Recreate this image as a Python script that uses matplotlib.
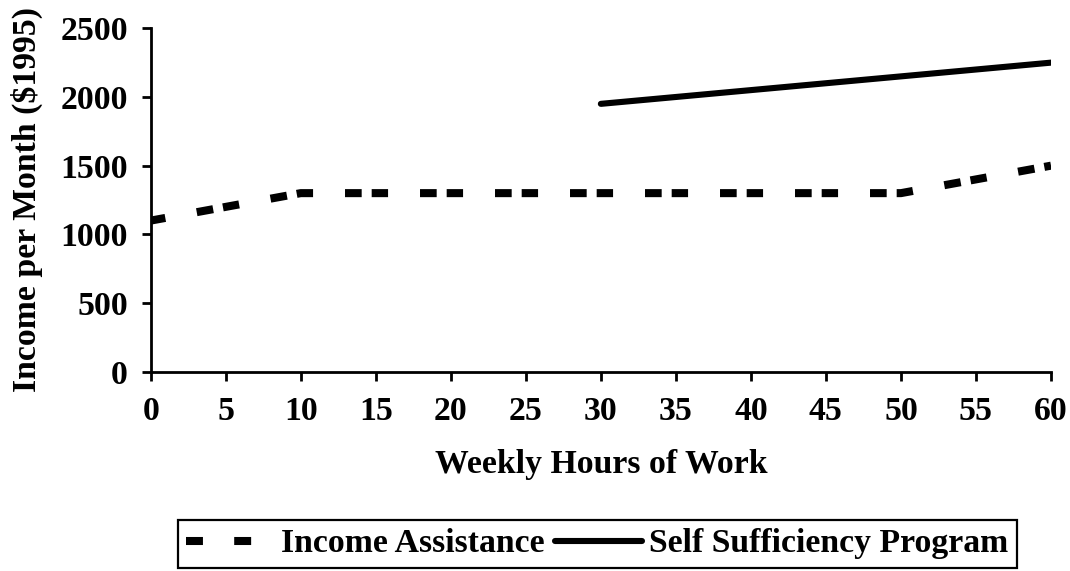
import matplotlib
matplotlib.use("Agg")
import matplotlib.pyplot as plt
from matplotlib.lines import Line2D

# Data
hours_ia = [0, 5, 10, 15, 20, 25, 30, 35, 40, 45, 50, 55, 60]
income_assistance = [1100, 1200, 1300, 1300, 1300, 1300, 1300, 1300, 1300, 1300, 1300, 1400, 1500]
hours_ssp = [30, 35, 40, 45, 50, 55, 60]
self_sufficiency = [1950, 2000, 2050, 2100, 2150, 2200, 2250]
x_ticks = list(range(0, 61, 5))
y_ticks = [0, 500, 1000, 1500, 2000, 2500]

plt.rcParams['font.family'] = ['Liberation Serif', 'DejaVu Serif']
plt.rcParams['font.weight'] = 'bold'
plt.rcParams['lines.scale_dashes'] = False

FS = 24.3

fig = plt.figure(figsize=(10.7, 5.71), dpi=100)
ax = fig.add_axes([150.7/1070, 1-371.7/571, (1051-150.7)/1070, (371.7-28.3)/571])

dash_seq = (12.0, 7.2, 11.8, 23.0)
ax.plot(hours_ia, income_assistance, color='black', lw=5.8,
        ls=(20.3, dash_seq), dash_capstyle='butt')
ax.plot(hours_ssp, self_sufficiency, color='black', lw=4.4,
        solid_capstyle='round')

ax.set_xlim(0, 60)
ax.set_ylim(0, 2500)
ax.set_xticks(x_ticks)
ax.set_yticks(y_ticks)
for s in ['top', 'right']:
    ax.spines[s].set_visible(False)
for s in ['left', 'bottom']:
    ax.spines[s].set_linewidth(2.0)
ax.tick_params(axis='both', direction='out', width=2.0, labelsize=FS)
ax.tick_params(axis='x', length=6.5, pad=11)
ax.tick_params(axis='y', length=6.5, pad=10)
for lab in ax.get_xticklabels() + ax.get_yticklabels():
    lab.set_fontweight('bold')

ax.set_xlabel('Weekly Hours of Work', fontsize=FS, fontweight='bold', labelpad=16)
ax.set_ylabel('Income per Month ($1995)', fontsize=FS, fontweight='bold', labelpad=12)

h1 = Line2D([], [], color='black', lw=5.8, ls=(0, (12.2, 22.5, 12.2, 40)), dash_capstyle='butt')
h2 = Line2D([], [], color='black', lw=4.4, solid_capstyle='round')
leg = fig.legend([h1, h2], ['Income Assistance', 'Self Sufficiency Program'],
                 loc='upper left', bbox_to_anchor=(178/1070, 1-520/571),
                 bbox_transform=fig.transFigure, ncol=2, fontsize=FS,
                 frameon=True, fancybox=False, framealpha=1, edgecolor='black',
                 handlelength=2.6, handletextpad=0.2, columnspacing=0.3,
                 borderpad=0.25, borderaxespad=0)
leg.get_frame().set_linewidth(1.6)
for t in leg.get_texts():
    t.set_fontweight('bold')

fig.savefig('out.png', dpi=100)
